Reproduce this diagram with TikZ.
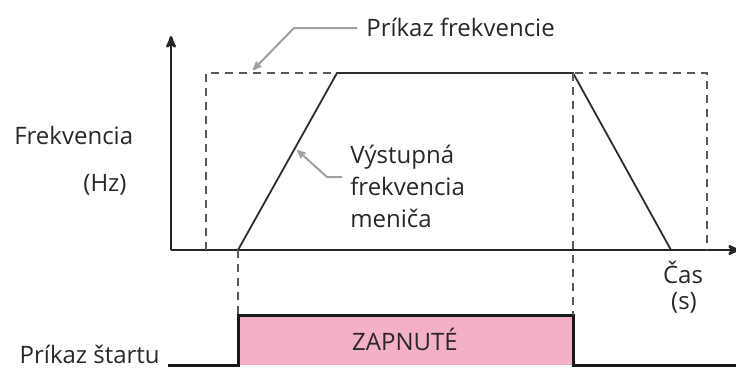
\documentclass[tikz,border=0pt]{standalone}
\usepackage{fontspec}
\setmainfont{Open Sans}
\usetikzlibrary{arrows,positioning}
\definecolor{pinkfill}{RGB}{244,176,196}
\definecolor{inkgray}{RGB}{40,40,40}
\begin{document}
\begin{tikzpicture}[x=1pt,y=-1pt,>=stealth',semithick,
                    font=\fontsize{24}{28}\selectfont,text=inkgray]
  \tikzstyle{lbl}=[inner sep=0pt]
  \tikzstyle{leader}=[draw=gray!75,line width=2pt,->]
  \tikzstyle{guide}=[draw=gray!70!black,line width=1.6pt,dash pattern=on 8pt off 6pt]
  \tikzstyle{curve}=[draw=gray!35!black,line width=1.8pt]
  \tikzstyle{axis}=[draw=black!85,line width=2.8pt]

  \useasboundingbox (0,0) rectangle (736,368);

  % axes
  \coordinate (O)    at (171,250);
  \coordinate (Ytop) at (171,36);
  \coordinate (Xend) at (740,250);
  \draw[axis,->] (O) -- (Ytop);
  \draw[axis,->] (O) -- (Xend);

  % frequency command (dashed)
  \coordinate (C1) at (206,250);
  \coordinate (C2) at (206,73);
  \coordinate (C3) at (707,73);
  \coordinate (C4) at (707,250);
  \draw[guide] (C1) -- (C2) -- (C3) -- (C4);

  % output frequency
  \coordinate (T1) at (238,250);
  \coordinate (T2) at (337,73);
  \coordinate (T3) at (573,73);
  \coordinate (T4) at (671,250);
  \draw[curve] (T1) -- (T2) -- (T3) -- (T4);

  % start command
  \coordinate (S0) at (168,365);
  \coordinate (S1) at (238,365);
  \coordinate (S2) at (238,315);
  \coordinate (S3) at (573,315);
  \coordinate (S4) at (573,365);
  \coordinate (S5) at (740,365);
  \fill[pinkfill] (S1) rectangle (S3);
  \draw[draw=black!90,line width=3pt,line join=miter]
    (S0) -- (S1) -- (S2) -- (S3) -- (S4) -- (S5);
  \node[lbl] (on) at (405,339) {ZAPNUTÉ};

  % guides down to the start command
  \draw[guide] (T1) -- (S2);
  \draw[guide] (T3) -- (S3);

  % labels
  \node[lbl,anchor=west] (fcmd)  at (366,27)  {Príkaz frekvencie};
  \node[lbl,anchor=west] (freq)  at (14,135)  {Frekvencia};
  \node[lbl]             (hz)    at (105,185) {(Hz)};
  \node[lbl,anchor=base west,align=left,font=\fontsize{24}{32}\selectfont]
                         (fout)  at (350,227) {Výstupná\\frekvencia\\meniča};
  \node[lbl]             (cas)   at (683,272) {Čas};
  \node[lbl]             (sec)   at (684,303) {(s)};
  \node[lbl,anchor=east] (start) at (160,354) {Príkaz štartu};

  % leaders
  \coordinate (A0) at (357,28);
  \coordinate (A1) at (294,28);
  \coordinate (A2) at (253,70);
  \draw[leader] (A0) -- (A1) -- (A2);
  \coordinate (B0) at (342,177);
  \coordinate (B1) at (327,177);
  \coordinate (B2) at (297,150);
  \draw[leader] (B0) -- (B1) -- (B2);
\end{tikzpicture}
\end{document}
